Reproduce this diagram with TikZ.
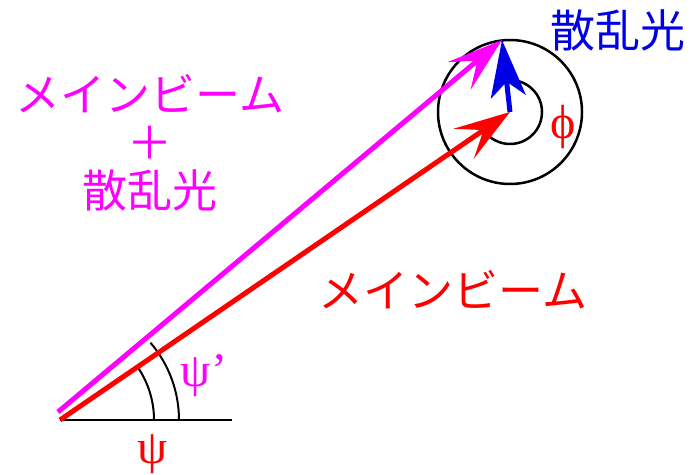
\documentclass[tikz,border=0pt]{standalone}
\usepackage{fontspec}
\newfontfamily\jpfont{Noto Sans CJK JP}
\newfontfamily\grfont{Liberation Serif}
\usepackage{xcolor}
\usetikzlibrary{arrows.meta, calc}
\definecolor{beamred}{RGB}{255,0,0}
\definecolor{beammag}{RGB}{255,0,255}
\definecolor{scatblue}{RGB}{0,0,230}
\tikzset{
  beamarrow/.style={
    line width=5pt, -{Stealth[length=56pt, width=36pt, inset=24pt]}
  },
  scatarrow/.style={
    line width=5pt, -{Stealth[length=57pt, width=35pt, inset=15pt]}
  },
  jplabel/.style={
    font=\jpfont\fontsize{45}{48}\selectfont, inner sep=0pt, align=center
  },
  greeklabel/.style={
    font=\grfont\fontsize{48}{50}\selectfont, inner sep=0pt
  },
  anglearc/.style={line width=2pt, black},
}

\begin{document}
\begin{tikzpicture}[x=1pt, y=1pt]
  \useasboundingbox (0,0) rectangle (698,474);

  % Points
  \coordinate (O) at (60,54);
  \coordinate (base) at (232,54);
  \coordinate (mstart) at (58,62);
  \coordinate (rtip) at (510,362);
  \coordinate (mtip) at (502,434);

  % Circle round the tip of the main beam
  \draw[line width=2.5pt] (rtip) circle[radius=72];
  \draw[line width=2.5pt] (rtip) ++(214.4:32)
    arc[start angle=214.4, end angle=455, radius=32];

  % Horizontal base line and angles
  \draw[line width=2.5pt] (O) -- (base);
  \draw[anglearc] (O) ++(94,0) arc[start angle=0, end angle=34.4, radius=94];
  \draw[anglearc] (O) ++(119,0) arc[start angle=0, end angle=40.5, radius=119];

  % Beams
  \draw[beamarrow, beammag] (mstart) -- (mtip);
  \draw[beamarrow, beamred] (O) -- (rtip);
  \draw[scatarrow, scatblue] (rtip) -- (mtip);

  % Labels
  \node[jplabel, text=scatblue] (scat) at (618,444) {散乱光};
  \node[jplabel, text=beammag] (sum) at (150,331)
    {メインビーム\\＋\\散乱光};
  \node[jplabel, text=beamred] (main) at (453,184) {メインビーム};
  \node[greeklabel, text=beamred] (phi) at (563,347) {ϕ};
  \node[greeklabel, text=beammag] (psip) at (204,98) {ψ’};
  \node[greeklabel, text=beamred] (psi) at (153,20) {ψ};
\end{tikzpicture}
\end{document}
